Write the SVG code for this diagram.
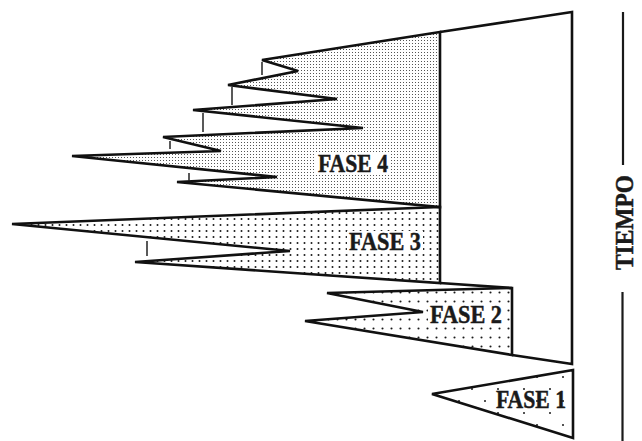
<svg xmlns="http://www.w3.org/2000/svg" width="642" height="441" viewBox="0 0 642 441">
<defs>
<pattern id="p4" width="3" height="3" patternUnits="userSpaceOnUse"><rect x="1" y="1" width="1" height="1" fill="#555"/></pattern>
<pattern id="p3" width="7" height="6" patternUnits="userSpaceOnUse"><circle cx="3.5" cy="3" r="1" fill="#1a1a1a"/></pattern>
<pattern id="p2" width="9" height="9" patternUnits="userSpaceOnUse"><circle cx="4.5" cy="4.5" r="1.05" fill="#1a1a1a"/></pattern>
<pattern id="p1" width="26" height="24" patternUnits="userSpaceOnUse"><circle cx="4" cy="5" r="1" fill="#1a1a1a"/><circle cx="17" cy="17" r="1" fill="#1a1a1a"/></pattern>
</defs>
<style>
.edge{stroke:#111;stroke-width:2.6;stroke-linejoin:miter;fill:none}
.tick{stroke:#222;stroke-width:1.5}
.lbl{font-family:"Liberation Serif","Times New Roman",serif;font-weight:bold;font-size:25px;fill:#1a1a1a;stroke:#1a1a1a;stroke-width:0.5}
.bg{fill:#fff}
.axis{stroke:#1a1a1a;stroke-width:2.2}
</style>
<rect width="642" height="441" fill="#fff"/>
<g id="outer">
<path class="edge" d="M440,32 L572,12 L572,364 L512,355 M440,283 L512,288"/>
</g>
<g id="fase4">
<polygon points="440,32 262,60 298,71 228,85 337,99 193,110 363,128 163,137 221,151 72,156 277,177 177,182 440,207" fill="url(#p4)"/>
<polygon class="edge" points="440,32 262,60 298,71 228,85 337,99 193,110 363,128 163,137 221,151 72,156 277,177 177,182 440,207"/>
<rect class="bg" x="316" y="153" width="74" height="21"/>
<text class="lbl" x="318" y="171.5" textLength="70" lengthAdjust="spacingAndGlyphs">FASE 4</text>
</g>
<g id="fase3">
<polygon points="440,207 12,224 290,251 135,262 440,283" fill="url(#p3)"/>
<polygon class="edge" points="440,207 12,224 290,251 135,262 440,283"/>
<rect class="bg" x="347" y="231" width="76" height="21"/>
<text class="lbl" x="349" y="249.5" textLength="72" lengthAdjust="spacingAndGlyphs">FASE 3</text>
</g>
<g id="fase2">
<polygon points="512,288 327,293 423,312 305,321 512,355" fill="url(#p2)"/>
<polygon class="edge" points="512,288 327,293 423,312 305,321 512,355"/>
<rect class="bg" x="428" y="304" width="76" height="21"/>
<text class="lbl" x="430" y="323" textLength="72" lengthAdjust="spacingAndGlyphs">FASE 2</text>
</g>
<g id="fase1">
<polygon points="573,370 432,394 573,438" fill="url(#p1)"/>
<polygon class="edge" points="573,370 432,394 573,438"/>
<text class="lbl" x="496" y="407.5" textLength="70" lengthAdjust="spacingAndGlyphs">FASE 1</text>
</g>
<g id="ticks">
<line class="tick" x1="262" y1="62" x2="262" y2="75"/>
<line class="tick" x1="232" y1="87" x2="232" y2="105"/>
<line class="tick" x1="203" y1="113" x2="203" y2="132"/>
<line class="tick" x1="170" y1="141" x2="170" y2="149"/>
<line class="tick" x1="189" y1="173" x2="189" y2="181"/>
<line class="tick" x1="147" y1="241" x2="147" y2="256"/>
</g>
<g id="tiempo">
<line class="axis" x1="623" y1="12" x2="623" y2="165"/>
<line class="axis" x1="622.5" y1="292" x2="622.5" y2="441"/>
<text class="lbl" transform="translate(632.5,270) rotate(-90)" x="0" y="0" textLength="95" lengthAdjust="spacingAndGlyphs">TIEMPO</text>
</g>
</svg>
